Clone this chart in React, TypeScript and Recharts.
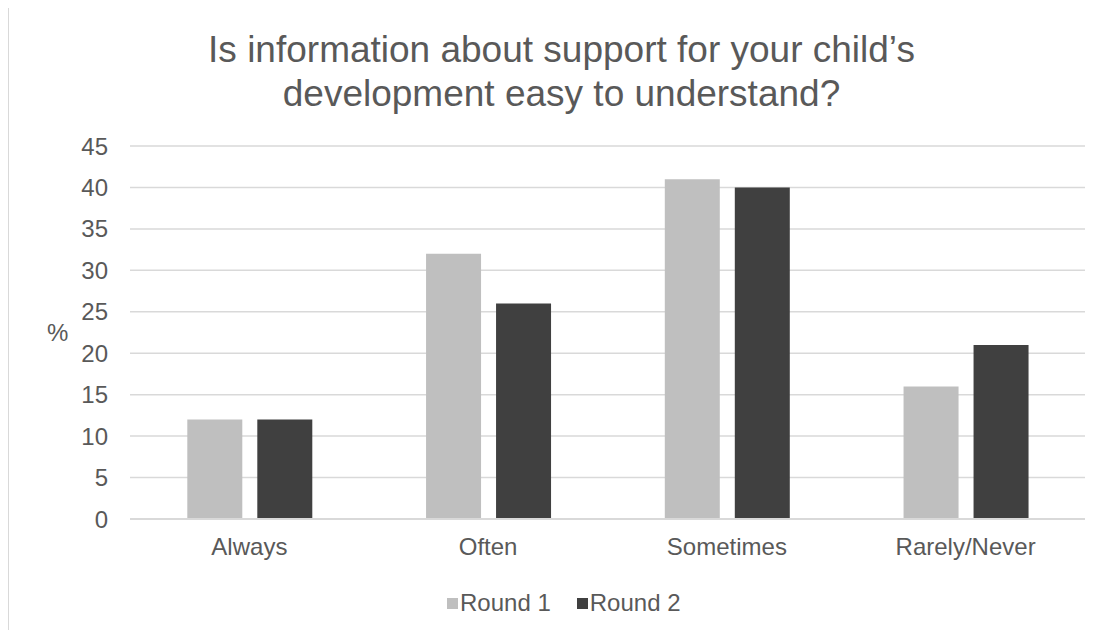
import { BarChart, Bar, XAxis, YAxis, CartesianGrid, Legend } from 'recharts'

const CATEGORIES = ['Always', 'Often', 'Sometimes', 'Rarely/Never']
const ROUND_1 = [12, 32, 41, 16]
const ROUND_2 = [12, 26, 40, 21]
const Y_TICKS = [0, 5, 10, 15, 20, 25, 30, 35, 40, 45]

const SERIES = [
  { key: 'round1', name: 'Round 1', color: '#bfbfbf' },
  { key: 'round2', name: 'Round 2', color: '#404040' },
]

const FONT = '"Liberation Sans", Arial, sans-serif'
const TEXT = '#595959'
const GRID = '#d9d9d9'

const data = CATEGORIES.map((name, i) => ({
  name,
  round1: ROUND_1[i],
  round2: ROUND_2[i],
}))

const LegendContent = () => (
  <div style={{ display: 'flex', alignItems: 'center', fontFamily: FONT, fontSize: 24, color: TEXT, lineHeight: '24px' }}>
    {SERIES.map((s, i) => (
      <div key={s.key} style={{ display: 'flex', alignItems: 'center', marginLeft: i ? 26 : 0 }}>
        <span style={{ width: 11, height: 11, background: s.color, display: 'inline-block', marginRight: 2 }} />
        <span>{s.name}</span>
      </div>
    ))}
  </div>
)

export default function App() {
  return (
    <div
      style={{
        position: 'relative',
        width: 1095,
        height: 622,
        marginTop: -1,
        borderTop: `1px solid ${GRID}`,
        borderLeft: `1px solid ${GRID}`,
        background: '#fff',
      }}
    >
      {/* chart title */}
      <div
        style={{
          position: 'absolute',
          top: 20,
          left: 0,
          width: 1105,
          textAlign: 'center',
          fontFamily: FONT,
          fontSize: 37,
          lineHeight: '44px',
          color: TEXT,
          whiteSpace: 'nowrap',
        }}
      >
        Is information about support for your child’s
        <br />
        development easy to understand?
      </div>
      <BarChart
        width={1095}
        height={622}
        data={data}
        margin={{ top: 138, right: 19, bottom: 51, left: 0 }}
        barCategoryGap="24%"
        barGap={15}
      >
        <CartesianGrid vertical={false} stroke={GRID} strokeWidth={1.5} />
        <XAxis
          dataKey="name"
          height={60}
          tickLine={false}
          tickSize={0}
          tickMargin={19}
          axisLine={{ stroke: GRID, strokeWidth: 2 }}
          tick={{ fill: TEXT, fontSize: 24, fontFamily: FONT }}
        />
        <YAxis
          width={121}
          domain={[0, 45]}
          ticks={Y_TICKS}
          interval={0}
          axisLine={false}
          tickLine={false}
          tickSize={0}
          tickMargin={22}
          tick={{ fill: TEXT, fontSize: 24, fontFamily: FONT }}
          label={{ value: '%', position: 'insideLeft', offset: 38, fill: TEXT, fontSize: 24, fontFamily: FONT }}
        />
        <Legend
          layout="horizontal"
          verticalAlign="middle"
          align="center"
          content={<LegendContent />}
          wrapperStyle={{ top: 583, left: 438, width: 'auto' }}
        />
        {SERIES.map((s) => (
          <Bar key={s.key} dataKey={s.key} name={s.name} fill={s.color} isAnimationActive={false} />
        ))}
      </BarChart>
    </div>
  )
}
